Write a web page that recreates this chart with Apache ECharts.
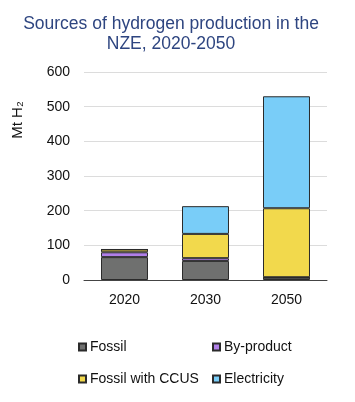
<!DOCTYPE html>
<html><head><meta charset="utf-8">
<script src="https://cdn.jsdelivr.net/npm/echarts@6/dist/echarts.min.js"></script>
<style>html,body{margin:0;padding:0;background:#fff}#c{width:355px;height:402px}</style>
</head><body><div id="c"></div>
<script>
const categories = ['2020', '2030', '2050'];
const fossil = [66, 55, 7];
const byProduct = [14, 8, 1];
const fossilCCUS = [8, 70, 199];
const electricity = [0, 80, 323];
const seriesNames = ['Fossil', 'By-product', 'Fossil with CCUS', 'Electricity'];
const seriesValues = [fossil, byProduct, fossilCCUS, electricity];
const colors = ['#6f706f', '#b07fe8', '#f2d94c', '#79cdf8'];

const font = 'Liberation Sans, Arial, sans-serif';
const chart = echarts.init(document.getElementById('c'));
const legendPos = [[73, 335], [207, 335], [73, 367], [207, 367]];
chart.setOption({
  animation: false,
  textStyle: { fontFamily: font },
  title: {
    text: 'Sources of hydrogen production in the\nNZE, 2020-2050',
    left: 166, top: 9, textAlign: 'center',
    textStyle: { color: '#2e4580', fontSize: 17.5, fontWeight: 'normal', lineHeight: 20, fontFamily: font }
  },
  legend: seriesNames.map((n, i) => ({
    data: [n], left: legendPos[i][0], top: legendPos[i][1],
    icon: 'rect', itemWidth: 7, itemHeight: 7, itemGap: 4,
    textStyle: { fontSize: 14, color: '#111', fontFamily: font, padding: [0, 0, 0, -1] },
    selectedMode: false
  })),
  grid: { left: 84, right: 28, top: 72, bottom: 122 },
  xAxis: {
    type: 'category', data: categories,
    axisLine: { lineStyle: { color: '#444', width: 1 } },
    axisTick: { show: false },
    axisLabel: { fontSize: 14, color: '#111', margin: 13, fontFamily: font }
  },
  yAxis: {
    type: 'value', min: 0, max: 600, interval: 100,
    name: 'Mt H\u2082', nameLocation: 'middle', nameRotate: 90, nameGap: 59,
    nameTextStyle: { fontSize: 15, color: '#111', fontFamily: font, padding: [0, 0, 0, 112] },
    axisLabel: { fontSize: 14, color: '#111', margin: 14, fontFamily: font },
    splitLine: { lineStyle: { color: '#dcdcdc', width: 1 } },
    axisLine: { show: false }, axisTick: { show: false }
  },
  series: seriesNames.map((n, i) => ({
    name: n, type: 'bar', stack: 'total', data: seriesValues[i],
    barWidth: '58%',
    itemStyle: { color: colors[i], borderColor: '#2b2b2b', borderWidth: 1 }
  }))
});
</script></body></html>
